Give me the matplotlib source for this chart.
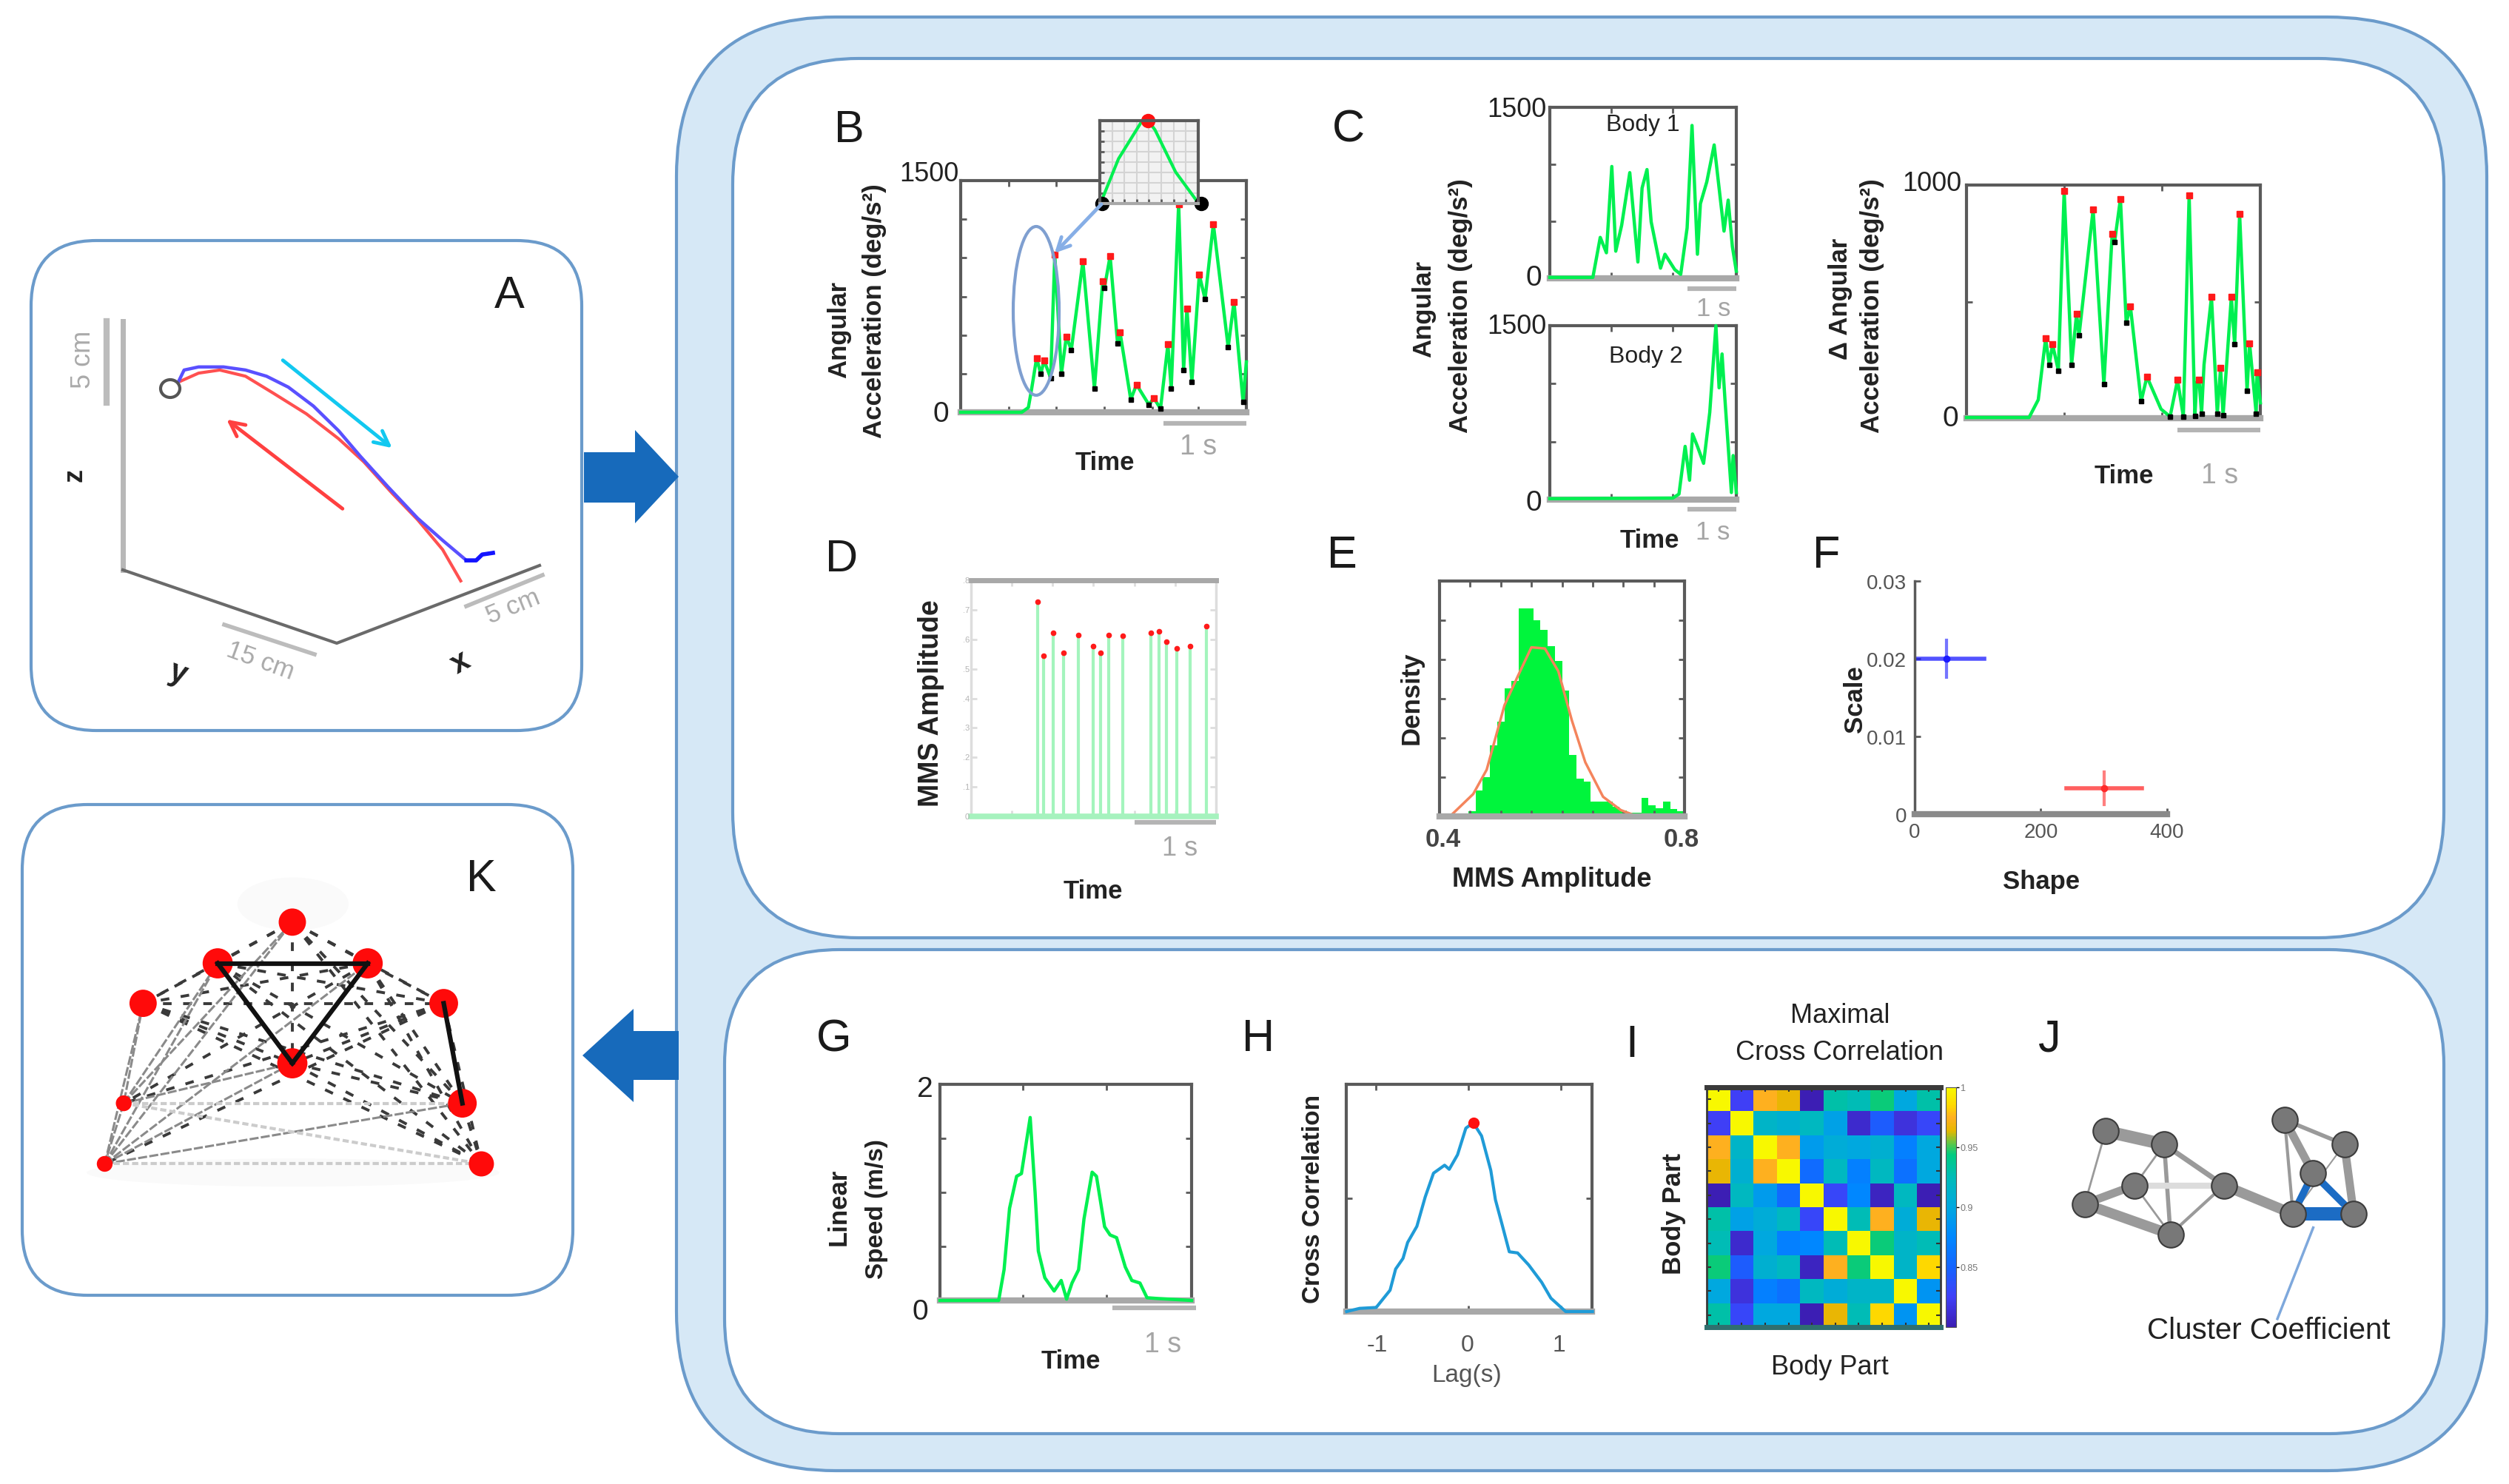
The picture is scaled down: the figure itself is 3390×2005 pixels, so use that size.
"""
Multi-panel figure: reach trajectory, acceleration traces, MMS amplitude stats,
cross correlation matrix and body networks.
Pixel layout follows the 3391x2006 original.
"""

import numpy as np
import matplotlib
matplotlib.use("Agg")
import matplotlib.pyplot as plt
from matplotlib.colors import LinearSegmentedColormap
from matplotlib.patches import FancyBboxPatch, Polygon, Ellipse
from matplotlib.transforms import blended_transform_factory

# -- Constants ---------------------------------------------------------------

W, H = 3391, 2006
DPI = 100

EDGE = "#6b9bcb"
PALE = "#d6e8f6"
ARROW = "#176abb"
GREEN = "#00f050"
GREY = "#a8a8a8"
DARK = "#5a5a5a"
TXT = "#222222"

plt.rcParams["font.family"] = ["Liberation Sans", "DejaVu Sans"]

# -- Data --------------------------------------------------------------------

# A: trajectory, cm
A_BLUE_X = [3.43, 3.76, 4.65, 6.18, 7.53, 8.82, 10.16, 11.7, 13.25, 14.57, 16.3, 18.1, 19.64, 21.1, 21.7, 22.07, 22.73]
A_BLUE_Y = [11.6, 12.28, 12.47, 12.47, 12.28, 11.9, 11.23, 10.07, 8.55, 7.0, 5.09, 3.18, 1.82, 0.59, 0.59, 0.95, 1.05]
A_RED_X = [3.55, 4.65, 5.95, 7.53, 9.27, 11.27, 13.25, 14.8, 16.55, 18.1, 19.64, 20.75]
A_RED_Y = [11.6, 12.09, 12.28, 11.9, 10.84, 9.59, 8.06, 6.64, 4.7, 3.09, 1.25, -0.67]

# B: angular acceleration
B_T = [0, 0.74, 0.82, 0.86, 0.92, 0.97, 1.01, 1.09, 1.14, 1.22, 1.28, 1.34, 1.48, 1.62, 1.72, 1.74, 1.81, 1.90, 1.93,
       2.06, 2.13, 2.28, 2.34, 2.42, 2.51, 2.55, 2.64, 2.70, 2.74, 2.80, 2.89, 2.96, 3.06, 3.24, 3.31, 3.42, 3.46]
B_ACC = [0, 0, 31, 153, 352, 248, 335, 222, 1020, 248, 491, 404, 976, 153, 846, 803, 1011, 447, 517,
         83, 179, 49, 92, 23, 439, 153, 1349, 274, 673, 196, 890, 733, 1219, 421, 716, 66, 326]
INSET_T = [0.03, 0.19, 0.42, 0.49, 0.56, 0.77, 0.98]
INSET_ACC = [0.07, 0.54, 0.98, 1.0, 0.89, 0.38, 0.04]

# C: body 1, body 2, difference
C1_T = [0, 0.875, 1.025, 1.15, 1.26, 1.34, 1.46, 1.625, 1.79, 1.875, 1.975, 2.06, 2.25, 2.34, 2.54, 2.66, 2.79, 2.89,
        3.0, 3.06, 3.19, 3.34, 3.54, 3.625, 3.71, 3.79]
C1_ACC = [8, 8, 359, 224, 981, 238, 465, 927, 143, 792, 954, 495, 89, 211, 76, 35, 441, 1341,
          211, 654, 846, 1170, 414, 686, 278, 62]
C2_T = [0, 2.5, 2.625, 2.75, 2.84, 2.9, 3.0, 3.125, 3.25, 3.375, 3.44, 3.5, 3.56, 3.69, 3.725, 3.79]
C2_ACC = [8, 13, 48, 459, 167, 566, 459, 313, 751, 1500, 964, 1256, 858, 61, 380, 61]
C3_T = [0, 0.756, 0.867, 0.956, 1.0, 1.04, 1.11, 1.18, 1.27, 1.33, 1.36, 1.53, 1.66, 1.76, 1.79, 1.86, 1.93, 1.98,
        2.11, 2.18, 2.35, 2.46, 2.55, 2.62, 2.69, 2.76, 2.78, 2.81, 2.84, 2.87, 2.96, 3.03, 3.07, 3.10, 3.2, 3.24,
        3.30, 3.39, 3.42, 3.50, 3.51, 3.55]
C3_ACC = [3, 3, 79, 342, 230, 316, 204, 974, 230, 447, 355, 895, 145, 789, 757, 941, 408, 480,
          72, 178, 39, 7, 164, 7, 954, 10, 151, 164, 20, 230, 520, 20, 217, 13, 520, 316,
          875, 118, 322, 20, 197, 66]

# D: MMS amplitudes
D_T = [0.82, 0.89, 1.01, 1.13, 1.31, 1.5, 1.59, 1.69, 1.86, 2.2, 2.3, 2.39, 2.52, 2.68, 2.88]
D_AMP = [0.728, 0.543, 0.622, 0.553, 0.615, 0.578, 0.553, 0.615, 0.612, 0.622, 0.626, 0.593, 0.570, 0.576, 0.645]

# E: histogram and fit
E_HEIGHTS = [0, 0, 0, 0, 0.13, 0.66, 1.0, 1.82, 2.42, 3.27, 3.46, 5.31, 5.31, 5.0, 4.75, 4.34, 3.96, 3.2, 1.57,
             0.97, 0.88, 0.38, 0.38, 0.38, 0.25, 0.16, 0.09, 0.09, 0.47, 0.28, 0.2, 0.38, 0.19, 0.13]
E_FIT_X = [0.419, 0.455, 0.477, 0.506, 0.528, 0.550, 0.572, 0.594, 0.616, 0.638, 0.667, 0.696, 0.718]
E_FIT_Y = [0.03, 0.57, 1.19, 2.83, 3.58, 4.31, 4.28, 3.70, 2.45, 1.38, 0.50, 0.16, 0.03]

# F: parameter estimates
F_SHAPE = [50, 300]
F_SCALE = [0.02, 0.0033]
F_SHAPE_ERR = [[50, 60], [60, 60]]
F_SCALE_ERR = [0.0024, 0.0021]

# G: linear speed
G_T = [0, 0.706, 0.771, 0.837, 0.922, 0.98, 1.085, 1.144, 1.183, 1.261, 1.373, 1.458, 1.523, 1.588, 1.667, 1.732,
       1.83, 1.882, 1.98, 2.046, 2.124, 2.229, 2.307, 2.405, 2.49, 2.634, 3.026]
G_SPEED = [0, 0, 0.284, 0.853, 1.149, 1.174, 1.693, 1.001, 0.457, 0.210, 0.087, 0.185, 0.012, 0.161, 0.284, 0.754,
           1.187, 1.149, 0.682, 0.606, 0.581, 0.309, 0.185, 0.161, 0.025, 0.017, 0]

# H: cross correlation
H_LAG = [-1.32, -1.18, -1.0, -0.85, -0.79, -0.71, -0.66, -0.56, -0.47, -0.38, -0.26, -0.21, -0.12, -0.03, 0.05, 0.14,
         0.24, 0.29, 0.36, 0.44, 0.53, 0.65, 0.79, 0.89, 1.05, 1.34]
H_CORR = [0, 0.014, 0.018, 0.094, 0.187, 0.234, 0.304, 0.375, 0.504, 0.609, 0.644, 0.626, 0.69, 0.807, 0.831, 0.773,
          0.621, 0.492, 0.386, 0.263, 0.258, 0.205, 0.129, 0.059, 0, 0]

# I: maximal cross correlation between body parts
I_MATRIX = [
    [1.0, 0.825, 0.975, 0.965, 0.80, 0.93, 0.925, 0.945, 0.90, 0.93],
    [0.825, 1.0, 0.915, 0.91, 0.92, 0.895, 0.81, 0.845, 0.815, 0.83],
    [0.975, 0.915, 1.0, 0.975, 0.89, 0.905, 0.90, 0.91, 0.87, 0.90],
    [0.965, 0.91, 0.975, 1.0, 0.855, 0.92, 0.87, 0.92, 0.86, 0.90],
    [0.80, 0.92, 0.89, 0.855, 1.0, 0.83, 0.875, 0.805, 0.92, 0.795],
    [0.93, 0.895, 0.905, 0.92, 0.83, 1.0, 0.925, 0.975, 0.905, 0.965],
    [0.925, 0.81, 0.90, 0.87, 0.875, 0.925, 1.0, 0.945, 0.915, 0.925],
    [0.945, 0.845, 0.91, 0.92, 0.805, 0.975, 0.945, 1.0, 0.915, 0.985],
    [0.90, 0.815, 0.87, 0.86, 0.92, 0.905, 0.915, 0.915, 1.0, 0.885],
    [0.93, 0.83, 0.90, 0.90, 0.795, 0.965, 0.925, 0.985, 0.885, 1.0],
]
I_TICKS = [0.85, 0.9, 0.95, 1]

# J: network, positions in layout units
J_X = [952, 1065, 1008, 912, 1077, 1180, 1297, 1412, 1352, 1313, 1430]
J_Y = [530, 580, 735, 805, 920, 735, 487, 580, 690, 843, 843]
J_EDGES = [(0, 1, 12), (0, 3, 2), (1, 2, 2), (1, 4, 4), (1, 5, 5), (2, 3, 8), (2, 4, 2), (3, 4, 10),
           (4, 5, 3), (5, 9, 10), (6, 7, 4), (6, 9, 3), (6, 8, 8), (7, 10, 8), (7, 9, 1.5)]
J_LIGHT_EDGES = [(2, 5, 6)]
J_BLUE_EDGES = [(8, 9, 7), (8, 10, 7), (9, 10, 13)]

# K: body network
K_X = [753, 545, 963, 337, 1175, 753, 283, 1227, 230, 1280]
K_Y = [348, 480, 480, 608, 608, 800, 928, 928, 1122, 1122]
K_SIZE = [38, 42, 42, 38, 40, 42, 22, 40, 22, 35]
K_THICK = [(1, 2), (1, 5), (2, 5), (4, 7)]
K_SOLID = [(3, 6), (6, 8), (8, 3), (8, 1), (8, 0), (8, 5), (8, 7), (6, 0), (6, 1), (6, 5), (8, 2)]
K_FAINT = [(6, 7), (8, 9), (6, 9)]


# -- Helpers -----------------------------------------------------------------

def px_axes(x0, y0, x1, y1, zorder=3):
    return fig.add_axes([x0 / W, 1 - y1 / H, (x1 - x0) / W, (y1 - y0) / H], zorder=zorder)


def label(x, y, s, size=24, rot=0, bold=False, color=TXT, ha="center", va="center"):
    top.text(x, y, s, fontsize=size, rotation=rot, color=color, ha=ha, va=va,
             fontweight="bold" if bold else "normal")


def round_box(ax, x0, y0, x1, y1, r, fc, lw=3):
    ax.add_patch(FancyBboxPatch((x0, y0), x1 - x0, y1 - y0, boxstyle=f"round,pad=0,rounding_size={r}",
                                fc=fc, ec=EDGE, lw=lw))


def style_axes(ax, xticks, yticks, spine=DARK, lw=3):
    ax.set_xticks(xticks)
    ax.set_yticks(yticks)
    ax.tick_params(direction="in", length=6, width=2, color=spine, top=True, right=True,
                   labelbottom=False, labelleft=False)
    for s in ax.spines.values():
        s.set_color(spine)
        s.set_linewidth(lw)
    ax.spines["bottom"].set_color(GREY)
    ax.spines["bottom"].set_linewidth(lw + 3)


def extrema(t, v):
    t, v = np.asarray(t), np.asarray(v)
    mid = np.arange(1, len(v) - 1)
    up = mid[(v[mid] > v[mid - 1]) & (v[mid] > v[mid + 1])]
    down = mid[(v[mid] < v[mid - 1]) & (v[mid] < v[mid + 1])]
    return t[up], v[up], t[down], v[down]


def trace(ax, t, v, marks=True):
    ax.plot(t, v, color=GREEN, lw=3.2, clip_on=False, zorder=3)
    if marks:
        tu, vu, td, vd = extrema(t, v)
        ax.plot(tu, vu, "s", color="#ff1a1a", ms=6, clip_on=False, zorder=4)
        ax.plot(td, vd, "s", color="black", ms=5, clip_on=False, zorder=4)


def scale_bar(ax, y_px, seconds=1.0, shift=0.0):
    # bar is one second long in data units, hung below the right end of the axes
    x1 = ax.get_xlim()[1] + shift
    box = ax.get_window_extent()
    y_axes = 1 - (y_px - (H - box.y1)) / box.height
    tr = blended_transform_factory(ax.transData, ax.transAxes)
    ax.plot([x1 - seconds, x1], [y_axes, y_axes], color="#b4b4b4", lw=4.5, transform=tr, clip_on=False,
            solid_capstyle="butt")


# -- Layout ------------------------------------------------------------------

fig = plt.figure(figsize=(W / DPI, H / DPI), dpi=DPI, facecolor="white")

bg = px_axes(0, 0, W, H, zorder=0)
bg.set_xlim(0, W)
bg.set_ylim(H, 0)
bg.axis("off")

round_box(bg, 914, 24, 3360, 1988, 215, PALE)
round_box(bg, 990, 80, 3302, 1268, 170, "white")
round_box(bg, 979, 1284, 3302, 1938, 155, "white")
round_box(bg, 42, 326, 786, 988, 88, "white")
round_box(bg, 30, 1088, 774, 1751, 88, "white")

bg.add_patch(Polygon([(789, 612), (858, 612), (858, 582), (917, 645), (858, 708), (858, 680), (789, 680)],
                     fc=ARROW, ec="none"))
bg.add_patch(Polygon([(917, 1394), (856, 1394), (856, 1364), (787, 1427), (856, 1490), (856, 1460), (917, 1460)],
                     fc=ARROW, ec="none"))

top = px_axes(0, 0, W, H, zorder=10)
top.set_xlim(0, W)
top.set_ylim(H, 0)
top.axis("off")
top.patch.set_alpha(0)

for letter, lx, ly in [("A", 688, 400), ("K", 650, 1188), ("B", 1147, 176), ("C", 1822, 176), ("D", 1137, 756),
                       ("E", 1813, 751), ("F", 2468, 751), ("G", 1127, 1405), ("H", 1700, 1405), ("I", 2205, 1412),
                       ("J", 2769, 1405)]:
    label(lx, ly, letter, size=44, color="#1a1a1a")

# -- A -----------------------------------------------------------------------

ax_a = px_axes(40, 330, 800, 990)
ax_a.set_xlim(-5.73, 28.82)
ax_a.set_ylim(-9.95, 20.05)
ax_a.axis("off")
ax_a.plot(A_RED_X, A_RED_Y, color="#ff5050", lw=3)
ax_a.plot(A_BLUE_X, A_BLUE_Y, color="#5a50ff", lw=3.2)
ax_a.plot(A_BLUE_X[-4:], A_BLUE_Y[-4:], color="#1414ff", lw=4)

top.plot([166, 166], [435, 771], color="#b8b8b8", lw=5)
top.plot([166, 455, 729], [771, 870, 765], color="#6a6a6a", lw=3)
top.plot([144, 144], [435, 545], color="#bcbcbc", lw=6)
top.plot([303, 425], [845, 885], color="#bcbcbc", lw=4)
top.plot([630, 733], [820, 778], color="#bcbcbc", lw=4)
label(113, 486, "5 cm", size=26, rot=90, color="#aaaaaa")
label(101, 642, "z", size=26, rot=90, bold=True)
label(352, 893, "15 cm", size=25, rot=-20, color="#aaaaaa")
label(693, 820, "5 cm", size=25, rot=22, color="#aaaaaa")
label(240, 910, "y", size=30, rot=-20, bold=True)
label(622, 896, "x", size=30, rot=30, bold=True)
top.add_patch(Ellipse((230, 526), 26, 24, fc="white", ec="#555555", lw=3))
top.annotate("", xy=(532, 608), xytext=(380, 486), arrowprops=dict(arrowstyle="->,head_length=1.4,head_width=0.7",
                                                                    color="#12c8f0", lw=3.5))
top.annotate("", xy=(304, 566), xytext=(465, 690), arrowprops=dict(arrowstyle="->,head_length=1.4,head_width=0.7",
                                                                    color="#ff4040", lw=3.5))

# -- B -----------------------------------------------------------------------

ax_b = px_axes(1298, 245, 1684, 558)
ax_b.set_xlim(0, 3.46)
ax_b.set_ylim(0, 1500)
style_axes(ax_b, [0.58, 1.16, 1.74, 2.32, 2.88], [0, 250, 500, 750, 1000, 1250, 1500])
trace(ax_b, B_T, B_ACC)
scale_bar(ax_b, 573)
label(1296, 235, "1500", size=26, ha="right")
label(1271, 560, "0", size=28)
label(1493, 625, "Time", size=25, bold=True)
label(1619, 604, "1 s", size=27, color="#a5a5a5")
label(1134, 445, "Angular", size=25, rot=90, bold=True)
label(1182, 420, "Acceleration (deg/s²)", size=25, rot=90, bold=True)

ax_in = px_axes(1486, 164, 1619, 276, zorder=5)
ax_in.set_xlim(0, 1)
ax_in.set_ylim(0, 1)
ax_in.set_facecolor("#f2f2f2")
ax_in.set_xticks(np.arange(0.125, 1, 0.125))
ax_in.set_yticks(np.arange(0.125, 1, 0.125))
ax_in.grid(color="#d4d4d4", lw=1.5)
ax_in.tick_params(direction="in", length=4, width=2, color=DARK, labelbottom=False, labelleft=False)
for s in ax_in.spines.values():
    s.set_color(DARK)
    s.set_linewidth(3)
ax_in.spines["bottom"].set_color(GREY)
ax_in.plot(INSET_T, INSET_ACC, color=GREEN, lw=3, clip_on=False)
ax_in.plot(INSET_T[3], INSET_ACC[3], "o", color="#ff1010", ms=13, clip_on=False)
ax_in.plot([0.02, 1.03], [0, 0], "o", color="black", ms=13, clip_on=False)

top.add_patch(Ellipse((1400, 421), 62, 228, fc="none", ec="#7f9fd0", lw=3))
top.annotate("", xy=(1423, 345), xytext=(1490, 275), arrowprops=dict(arrowstyle="->,head_length=1.2,head_width=0.6",
                                                                      color="#86aee6", lw=3.5))

# -- C -----------------------------------------------------------------------

ax_c1 = px_axes(2094, 146, 2346, 377)
ax_c1.set_xlim(0, 3.79)
ax_c1.set_ylim(0, 1500)
style_axes(ax_c1, [1.25, 2.5], [0, 500, 1000, 1500])
trace(ax_c1, C1_T, C1_ACC, marks=False)
scale_bar(ax_c1, 391)

ax_c2 = px_axes(2094, 441, 2346, 676)
ax_c2.set_xlim(0, 3.79)
ax_c2.set_ylim(0, 1500)
style_axes(ax_c2, [1.25, 2.5], [0, 500, 1000, 1500])
trace(ax_c2, C2_T, C2_ACC, marks=False)
scale_bar(ax_c2, 689)

label(2220, 169, "Body 1", size=23)
label(2224, 482, "Body 2", size=23)
label(2090, 148, "1500", size=26, ha="right")
label(2090, 441, "1500", size=26, ha="right")
label(2072, 376, "0", size=28)
label(2072, 680, "0", size=28)
label(2315, 417, "1 s", size=25, color="#a5a5a5")
label(2314, 719, "1 s", size=25, color="#a5a5a5")
label(2229, 730, "Time", size=25, bold=True)
label(1924, 417, "Angular", size=25, rot=90, bold=True)
label(1974, 413, "Acceleration (deg/s²)", size=25, rot=90, bold=True)

ax_c3 = px_axes(2657, 251, 3054, 566)
ax_c3.set_xlim(0, 3.55)
ax_c3.set_ylim(0, 1000)
style_axes(ax_c3, [1.18, 2.36], [0, 500, 1000])
trace(ax_c3, C3_T, C3_ACC)
scale_bar(ax_c3, 582)
label(2650, 248, "1000", size=26, ha="right")
label(2635, 566, "0", size=28)
label(2870, 643, "Time", size=25, bold=True)
label(2999, 643, "1 s", size=27, color="#a5a5a5")
label(2487, 404, "Δ Angular", size=25, rot=90, bold=True)
label(2530, 413, "Acceleration (deg/s²)", size=25, rot=90, bold=True)

# -- D -----------------------------------------------------------------------

ax_d = px_axes(1312, 785, 1643, 1104)
ax_d.set_xlim(0, 3.0)
ax_d.set_ylim(0, 0.8)
style_axes(ax_d, [0.5, 1, 1.5, 2, 2.5], np.arange(0, 0.81, 0.1), spine="#dddddd", lw=2.5)
ax_d.spines["top"].set_color(GREY)
ax_d.spines["top"].set_linewidth(5)
ax_d.spines["bottom"].set_color("#a6f2be")
ax_d.vlines(D_T, 0, D_AMP, color="#a4f4bd", lw=3)
ax_d.plot(D_T, D_AMP, "o", color="#ff1a1a", ms=4.5, clip_on=False, zorder=4)
scale_bar(ax_d, 1112)
for val, txt in zip(np.arange(0, 0.81, 0.1), ["0", ".1", ".2", ".3", ".4", ".5", ".6", ".7", ".8"]):
    ax_d.text(-0.02, val, txt, fontsize=8, color="#b4b4b4", ha="right", va="center")
label(1258, 950, "MMS Amplitude", size=27, rot=90, bold=True)
label(1477, 1205, "Time", size=25, bold=True)
label(1594, 1147, "1 s", size=26, color="#a5a5a5")

# -- E -----------------------------------------------------------------------

ax_e = px_axes(1945, 786, 2276, 1104)
ax_e.set_xlim(0.4, 0.8)
ax_e.set_ylim(0, 6)
style_axes(ax_e, np.arange(0.45, 0.8, 0.05), np.arange(0, 7))
edges = np.linspace(0.4, 0.8, len(E_HEIGHTS) + 1)
ax_e.bar(edges[:-1], E_HEIGHTS, width=np.diff(edges), align="edge", color="#00f53c", lw=0)
ax_e.plot(E_FIT_X, E_FIT_Y, color="#f4845c", lw=2.5)
label(1950, 1134, "0.4", size=25, bold=True, color="#444444")
label(2272, 1134, "0.8", size=25, bold=True, color="#444444")
label(2097, 1188, "MMS Amplitude", size=26, bold=True)
label(1907, 943, "Density", size=25, rot=90, bold=True)

# -- F -----------------------------------------------------------------------

ax_f = px_axes(2587, 786, 2928, 1101)
ax_f.set_xlim(0, 400)
ax_f.set_ylim(0, 0.03)
ax_f.set_xticks([0, 200, 400])
ax_f.set_yticks([0, 0.01, 0.02, 0.03])
ax_f.set_yticklabels(["0", "0.01", "0.02", "0.03"])
ax_f.tick_params(direction="in", length=6, width=2, color=DARK, labelsize=20, labelcolor="#555555", pad=8)
for side in ("top", "right"):
    ax_f.spines[side].set_visible(False)
ax_f.spines["left"].set_color(DARK)
ax_f.spines["left"].set_linewidth(2.5)
ax_f.spines["bottom"].set_color("#8a8a8a")
ax_f.spines["bottom"].set_linewidth(6)
for i, col in enumerate(["#1a1aff", "#ff2a2a"]):
    xerr = [[F_SHAPE_ERR[i][0]], [F_SHAPE_ERR[i][1]]]
    ax_f.plot([F_SHAPE[i] - xerr[0][0], F_SHAPE[i] + xerr[1][0]], [F_SCALE[i]] * 2, color=col, lw=4, alpha=0.75)
    ax_f.plot([F_SHAPE[i]] * 2, [F_SCALE[i] - F_SCALE_ERR[i], F_SCALE[i] + F_SCALE_ERR[i]], color=col, lw=3, alpha=0.6)
    ax_f.plot(F_SHAPE[i], F_SCALE[i], "o", color=col, ms=6)
label(2507, 945, "Scale", size=25, rot=90, bold=True)
label(2758, 1192, "Shape", size=25, bold=True)

# -- G -----------------------------------------------------------------------

ax_g = px_axes(1270, 1466, 1610, 1758)
ax_g.set_xlim(0, 3.026)
ax_g.set_ylim(0, 2)
style_axes(ax_g, [1, 2], [0, 0.5, 1, 1.5, 2])
trace(ax_g, G_T, G_SPEED, marks=False)
scale_bar(ax_g, 1768, shift=0.05)
label(1250, 1472, "2", size=28)
label(1243, 1773, "0", size=28)
label(1447, 1840, "Time", size=25, bold=True)
label(1571, 1817, "1 s", size=27, color="#a5a5a5")
label(1133, 1631, "Linear", size=25, rot=90, bold=True)
label(1185, 1634, "Speed (m/s)", size=24, rot=90, bold=True)

# -- H -----------------------------------------------------------------------

ax_h = px_axes(1819, 1466, 2151, 1773)
ax_h.set_xlim(-1.324, 1.335)
ax_h.set_ylim(0, 1)
style_axes(ax_h, [-1, 0, 1], [0, 0.5, 1])
ax_h.plot(H_LAG, H_CORR, color="#1f9bd7", lw=3, clip_on=False, zorder=3)
ax_h.plot(H_LAG[14], H_CORR[14], "o", color="#ff1010", ms=10, zorder=4)
label(1861, 1818, "-1", size=23, color="#555555")
label(1983, 1818, "0", size=23, color="#555555")
label(2107, 1818, "1", size=23, color="#555555")
label(1982, 1859, "Lag(s)", size=24, color="#555555")
label(1775, 1620, "Cross Correlation", size=24, rot=90, bold=True)

# -- I -----------------------------------------------------------------------

parula = LinearSegmentedColormap.from_list("parula_like", [
    (0.0, "#3c1eb4"), (0.125, "#4040f8"), (0.25, "#1464ff"), (0.375, "#0088ff"), (0.5, "#00a8e0"),
    (0.625, "#00bcb8"), (0.72, "#00cc80"), (0.76, "#50c850"), (0.82, "#e6b800"), (0.875, "#ffb020"),
    (0.925, "#ffd800"), (1.0, "#f8f800")])
ax_i = px_axes(2306, 1470, 2622, 1794)
im = ax_i.imshow(I_MATRIX, cmap=parula, vmin=0.8, vmax=1.0, aspect="auto", interpolation="nearest")
ax_i.set_xticks(range(10))
ax_i.set_yticks(range(10))
ax_i.tick_params(direction="in", length=4, width=1.5, color="#333333", top=True, right=True,
                 labelbottom=False, labelleft=False)
for s in ax_i.spines.values():
    s.set_color("#3a3a3a")
    s.set_linewidth(2)
ax_i.spines["top"].set_linewidth(5)
ax_i.spines["bottom"].set_linewidth(5)
ax_i.spines["bottom"].set_color("#2f6f6f")

cax = px_axes(2629, 1470, 2643, 1794)
cb = fig.colorbar(im, cax=cax)
cb.set_ticks(I_TICKS)
cb.set_ticklabels(["0.85", "0.9", "0.95", "1"])
cb.ax.tick_params(labelsize=9, length=3, width=1, labelcolor="#777777", pad=1)
cb.outline.set_edgecolor("#555555")

label(2486, 1372, "Maximal", size=26)
label(2486, 1423, "Cross Correlation", size=26)
label(2472, 1848, "Body Part", size=26)
label(2262, 1640, "Body Part", size=25, rot=90, bold=True)

# -- J -----------------------------------------------------------------------

ax_j = px_axes(2177, 1340, 3277, 1900)
ax_j.set_xlim(0, 1568)
ax_j.set_ylim(1568, 0)
ax_j.axis("off")
for i, j, w in J_EDGES:
    ax_j.plot([J_X[i], J_X[j]], [J_Y[i], J_Y[j]], color="#9a9a9a", lw=w, zorder=1)
for i, j, w in J_LIGHT_EDGES:
    ax_j.plot([J_X[i], J_X[j]], [J_Y[i], J_Y[j]], color="#dcdcdc", lw=w, zorder=1)
for i, j, w in J_BLUE_EDGES:
    ax_j.plot([J_X[i], J_X[j]], [J_Y[i], J_Y[j]], color="#1c6cc4", lw=w, zorder=2)
ax_j.scatter(J_X, J_Y, s=620, color="#787878", edgecolor="#3c3c3c", lw=1.5, zorder=3)
ax_j.plot([1352, 1283], [895, 1240], color="#7ea8dc", lw=2.5)
label(3065, 1798, "Cluster Coefficient", size=29)

# -- K -----------------------------------------------------------------------

ax_k = px_axes(30, 1100, 790, 1760)
ax_k.set_xlim(0, 1568)
ax_k.set_ylim(1564, 0)
ax_k.axis("off")
ax_k.add_patch(Ellipse((755, 290), 310, 170, fc="#fafafa", ec="none"))
ax_k.add_patch(Ellipse((755, 1150), 1150, 90, fc="#fafafa", ec="none"))
n = len(K_X)
for i in range(n):
    for j in range(i + 1, n):
        pair = (i, j)
        if pair in K_THICK or pair in K_SOLID or (j, i) in K_SOLID or pair in K_FAINT:
            continue
        ax_k.plot([K_X[i], K_X[j]], [K_Y[i], K_Y[j]], color="#3a3a3a", lw=2.8, ls=(0, (3, 4)), zorder=1)
for i, j in K_SOLID:
    ax_k.plot([K_X[i], K_X[j]], [K_Y[i], K_Y[j]], color="#8a8a8a", lw=2.2, ls=(0, (4, 1)), zorder=1)
for i, j in K_FAINT:
    ax_k.plot([K_X[i], K_X[j]], [K_Y[i], K_Y[j]], color="#cccccc", lw=3, ls=(0, (2, 1)), zorder=1)
for i, j in K_THICK:
    ax_k.plot([K_X[i], K_X[j]], [K_Y[i], K_Y[j]], color="#111111", lw=4.5, zorder=3)
sizes = [(2 * r / 2.06 * 0.72) ** 2 for r in K_SIZE]
ax_k.scatter(K_X, K_Y, s=sizes, color="#ff0a0a", lw=0, zorder=2)

fig.savefig("out.png", dpi=DPI, facecolor="white")
